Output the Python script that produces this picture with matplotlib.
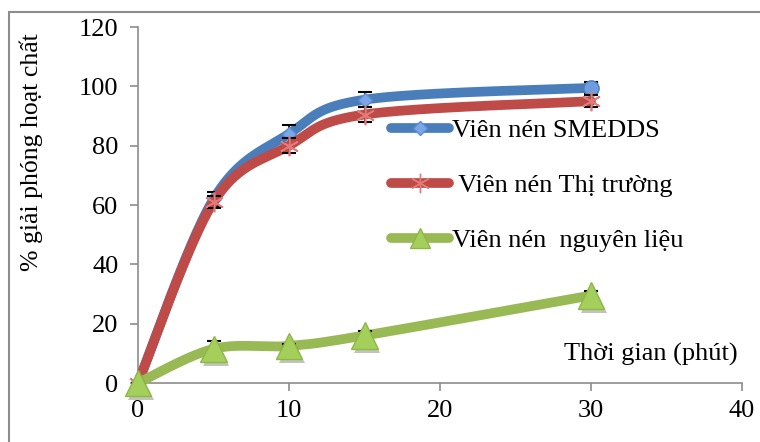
import numpy as np
import matplotlib
matplotlib.use("Agg")
import matplotlib.pyplot as plt
from matplotlib.patches import Rectangle
import matplotlib.patheffects as pe

time = [0, 5, 10, 15, 30]
smedds = [0, 62, 84, 95.5, 99.5]
smedds_err = [0, 2.5, 3, 2.5, 2]
market = [0, 61, 80, 90.5, 95]
market_err = [0, 2, 2.5, 2.5, 2]
raw = [0, 11.5, 12.5, 16, 29.5]
raw_err = [0, 2.5, 0.5, 1.5, 1.5]
labels = ["Viên nén SMEDDS", " Viên nén Thị trường", "Viên nén  nguyên liệu"]
xticks = [0, 10, 20, 30, 40]
yticks = [0, 20, 40, 60, 80, 100, 120]

plt.rcParams['font.family'] = ['Liberation Serif', 'DejaVu Serif']

W, H = 760, 442
fig = plt.figure(figsize=(W / 100, H / 100), dpi=100)
ax = fig.add_axes([138 / W, 59 / H, 604 / W, 356 / H])
ax.set_xlim(0, 40)
ax.set_ylim(0, 120)

SX, SY = 15.1, 2.967


def smooth(xs, ys, n=40):
    P = np.column_stack([np.array(xs, float) * SX, np.array(ys, float) * SY])
    pts = [P[0]]
    m = len(P)
    for i in range(m - 1):
        p0 = P[i - 1] if i > 0 else P[i]
        p1, p2 = P[i], P[i + 1]
        p3 = P[i + 2] if i + 2 < m else P[i + 1]
        c1 = p1 + (p2 - p0) / 6
        c2 = p2 - (p3 - p1) / 6
        t = np.linspace(0, 1, n)[1:, None]
        seg = ((1 - t) ** 3) * p1 + 3 * ((1 - t) ** 2) * t * c1 + 3 * (1 - t) * t ** 2 * c2 + t ** 3 * p2
        pts.extend(seg)
    pts = np.array(pts)
    return pts[:, 0] / SX, pts[:, 1] / SY


series = [
    (smedds, smedds_err, "#4A7EBB", dict(marker='D', ms=7, mfc='#7BA7E8', mec='#5A8ED0')),
    (market, market_err, "#BE4B48", dict(marker=(6, 2, 0), ms=14, mfc='#E37A78', mec='#E37A78', mew=1.2)),
    (raw, raw_err, "#98B954", dict(marker='^', ms=19, mfc='#A4CF5A', mec='#8DB848')),
]

mshadow = [pe.SimplePatchShadow(offset=(2, -3), alpha=0.3), pe.Normal()]
for k, (ys, err, col, mk) in enumerate(series):
    sx, sy = smooth(time, ys)
    ax.plot(sx, sy, color=col, lw=7, solid_capstyle='round', zorder=3 + k, clip_on=False)
    ax.errorbar(time, ys, yerr=err, fmt='none', ecolor='black', elinewidth=1.2,
                capsize=5, capthick=1.5, zorder=3 + k, clip_on=False)
    ax.plot(time, ys, linestyle='none', zorder=3.5 + k, clip_on=False,
            path_effects=mshadow if k == 2 else None, **mk)
    # legend proxy
    ax.plot([], [], color=col, lw=7, solid_capstyle='round', label=labels[k],
            marker=mk['marker'], ms=mk['ms'] * (0.75 if k == 2 else 1), mfc=mk['mfc'], mec=mk['mec'])

# circular marker for final SMEDDS point
ax.plot([time[-1]], [smedds[-1]], 'o', ms=11, mfc='#6E9EE0', mec='#4A7EBB', zorder=3.6, clip_on=False)

leg = ax.legend(loc='upper left', bbox_to_anchor=(0.419, 0.743), frameon=False,
                fontsize=19, handlelength=2.2, handletextpad=0.1, labelspacing=1.2,
                borderaxespad=0, borderpad=0)

for s in ['top', 'right']:
    ax.spines[s].set_visible(False)
for s in ['left', 'bottom']:
    ax.spines[s].set_color('#8C8C8C')
    ax.spines[s].set_linewidth(1.2)
ax.set_xticks(xticks)
ax.set_yticks(yticks)
ax.tick_params(direction='out', length=6, width=1.2, color='#8C8C8C', labelsize=19)
ax.tick_params(axis='y', pad=8)
ax.tick_params(axis='x', pad=6)

ax.text(0.993, 0.079, "Thời gian (phút)", transform=ax.transAxes, ha='right', va='center', fontsize=19)
fig.text(31 / W, 1 - 152 / H, "% giải phóng hoạt chất", rotation=90, ha='center', va='center', fontsize=18.5)

fig.patches.append(Rectangle((9 / W, -0.1), 1.2, 1.1 - 12 / H, transform=fig.transFigure,
                             fill=False, edgecolor='#8C8C8C', lw=1.5))

fig.savefig("out.png", dpi=100)
